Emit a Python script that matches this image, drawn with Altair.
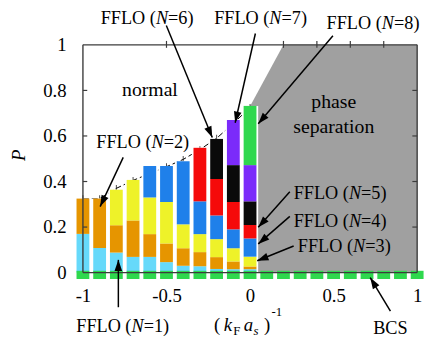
import math
import altair as alt
import pandas as pd

# ---------------- data ----------------
x_vals = [-1.0, -0.9, -0.8, -0.7, -0.6, -0.5, -0.4, -0.3, -0.2, -0.1, 0.0]
# cumulative upper edge of each FFLO(N) segment (None = absent)
top_N1 = [0.170, 0.108, 0.088, 0.069, 0.069, 0.046, 0.030, 0.028, 0.016, 0.015, 0.015]
top_N2 = [0.325, 0.325, 0.208, 0.229, 0.169, 0.128, 0.107, 0.090, 0.068, 0.049, 0.027]
top_N3 = [None, None, 0.364, 0.407, 0.330, 0.310, 0.212, 0.169, 0.147, 0.107, 0.070]
top_N4 = [None, None, None, None, 0.468, 0.468, 0.489, 0.313, 0.251, 0.190, 0.150]
top_N5 = [None, None, None, None, None, None, None, 0.548, 0.411, 0.310, 0.209]
top_N6 = [None, None, None, None, None, None, None, None, 0.587, 0.472, 0.313]
top_N7 = [None, None, None, None, None, None, None, None, None, 0.670, 0.472]
top_N8 = [None, None, None, None, None, None, None, None, None, None, 0.732]

# normal-state boundary (dashed curve)
pc_vals = [0.325, 0.325, 0.370, 0.405, 0.435, 0.465, 0.497, 0.540, 0.590, 0.655, 0.725]

# BCS states at P = 0
bcs_x = [-1.0, -0.9, -0.8, -0.7, -0.6, -0.5, -0.4, -0.3, -0.2, -0.1, 0.0,
         0.1, 0.2, 0.3, 0.4, 0.5, 0.6, 0.7, 0.8, 0.9, 1.0]
bcs_P = [0.0] * len(bcs_x)

# phase-separation region boundary
ps_x = [0.0, 0.2, 1.0]
ps_top = [0.73, 1.0, 1.0]

x_ticks = [-1, -0.5, 0, 0.5, 1]
y_ticks = [0, 0.2, 0.4, 0.6, 0.8, 1]

N_names = ["N=1", "N=2", "N=3", "N=4", "N=5", "N=6", "N=7", "N=8"]
N_colors = ["#66D9FA", "#E69500", "#EEF229", "#1F80EA", "#F50A0A", "#0A0A0A", "#7B2BFA", "#2FD84E"]

# ---------------- layout constants ----------------
W, H = 349, 231
FONT = "'Liberation Serif', 'Times New Roman', Times, 'DejaVu Serif', serif"
PX_X = W / 2.0   # px per x unit
PX_Y = H / 1.0   # px per y unit

# ---------------- tables ----------------
tops = [top_N1, top_N2, top_N3, top_N4, top_N5, top_N6, top_N7, top_N8]
rows = []
totals = []
for i, xv in enumerate(x_vals):
    lo = 0.0
    for n, arr in enumerate(tops):
        hi = arr[i]
        if hi is None:
            continue
        rows.append({"x": xv, "lo": lo, "hi": hi, "N": N_names[n]})
        lo = hi
    totals.append({"x": xv, "top": lo})
bars_df = pd.DataFrame(rows)
tot_df = pd.DataFrame(totals)
pc_df = pd.DataFrame({"x": x_vals, "P": pc_vals})
bcs_df = pd.DataFrame({"x": bcs_x, "P": bcs_P})
ps_df = pd.DataFrame({"x": ps_x, "top": ps_top, "bot": [0.0] * len(ps_x)})

xscale = alt.Scale(domain=[-1, 1], nice=False, zero=False)
yscale = alt.Scale(domain=[0, 1], nice=False, zero=False)
xaxis = alt.Axis(values=x_ticks, labelExpr="replace(format(datum.value, '~g'), '\u2212', '-')",
                 domain=False, ticks=False, tickSize=0, grid=False, labelFont=FONT,
                 labelFontSize=19, labelColor="black", labelPadding=14, labelFlush=False,
                 labelOverlap=False, title=None)
yaxis = alt.Axis(values=y_ticks, format="~g", domain=False, ticks=False, tickSize=0,
                 grid=False, labelFont=FONT, labelFontSize=19, labelColor="black",
                 labelPadding=12, labelFlush=False, labelOverlap=False, title=None)


def X(f):
    return alt.X(f, type="quantitative", scale=xscale, axis=xaxis)


def Y(f):
    return alt.Y(f, type="quantitative", scale=yscale, axis=yaxis)


# phase separation (gray)
gray = alt.Chart(ps_df).mark_area(color="#A0A0A0", opacity=1).encode(
    x=X("x"), y=Y("top"), y2="bot")

# dashed normal boundary + markers
dash = alt.Chart(pc_df).mark_line(color="black", strokeWidth=1, strokeDash=[6, 3]).encode(
    x=X("x"), y=Y("P"))
marks = alt.Chart(pc_df).mark_tick(color="black", orient="vertical", size=7, thickness=1).encode(
    x=X("x"), y=Y("P"))

# white backing and colored stacked bars
white = alt.Chart(tot_df).transform_calculate(base="0").mark_bar(size=16.5, color="white").encode(
    x=X("x"), y=Y("base:Q"), y2="top")
bars = alt.Chart(bars_df).mark_bar(size=13).encode(
    x=X("x"), y=Y("lo"), y2="hi",
    color=alt.Color("N:N", scale=alt.Scale(domain=N_names, range=N_colors), legend=None))

# BCS squares at P=0
bcs = alt.Chart(bcs_df).transform_calculate(
    lo="datum.P - 0.028", hi="datum.P + 0.008").mark_bar(size=13, color="#2FD84E").encode(
    x=X("x"), y=Y("lo:Q"), y2="hi:Q")

# frame and inner ticks
frame_df = pd.DataFrame({"x": [-1, 1, -1, -1], "x2": [1, 1, 1, -1],
                         "y": [1, 0, 0, 0], "y2": [1, 1, 0, 1]})
frame = alt.Chart(frame_df).mark_rule(color="#3C3C3C", strokeWidth=1.4).encode(
    x=X("x"), x2="x2", y=Y("y"), y2="y2")
tick_rows = []
for v in [0.2, 0.4, 0.6, 0.8]:
    tick_rows.append({"x": -1, "x2": -1 + 4.5 / PX_X, "y": v, "y2": v})
    tick_rows.append({"x": 1, "x2": 1 - 5 / PX_X, "y": v, "y2": v})
for v in [-0.5, 0.2, 0.4, 0.6, 0.8]:
    tick_rows.append({"x": v, "x2": v, "y": 1 + 4 / PX_Y, "y2": 1 - 3 / PX_Y})
ticks = alt.Chart(pd.DataFrame(tick_rows)).mark_rule(color="#3C3C3C", strokeWidth=1.2).encode(
    x=X("x"), x2="x2", y=Y("y"), y2="y2")

# arrows (start -> tip), data coords
arrow_df = pd.DataFrame({
    "x":  [-0.501, 0.032, 0.496, -0.759, 0.238, 0.238, 0.261, -0.788, 0.840],
    "y":  [1.085, 1.050, 1.040, 0.506, 0.355, 0.247, 0.117, -0.152, -0.169],
    "x2": [-0.226, -0.089, 0.049, -0.897, 0.049, 0.049, 0.043, -0.788, 0.719],
    "y2": [0.593, 0.658, 0.654, 0.290, 0.199, 0.126, 0.052, 0.056, -0.022],
})
arrow_df["ang"] = [
    (math.degrees(math.atan2((r.x2 - r.x) * PX_X, (r.y2 - r.y) * PX_Y)) + 360) % 360
    for r in arrow_df.itertuples()]
shafts = alt.Chart(arrow_df).mark_rule(color="black", strokeWidth=1.5).encode(
    x=X("x"), x2="x2", y=Y("y"), y2="y2")
heads = alt.Chart(arrow_df).mark_point(
    shape="M0,0L0.34,1L-0.34,1Z", filled=True, color="black", opacity=1, size=520).encode(
    x=X("x2"), y=Y("y2"), angle=alt.Angle("ang:Q", scale=None))

# FFLO labels (center positions), composed of 3 parts for italic N
lab_df = pd.DataFrame({
    "x": [-0.762, -0.642, 0.564, 0.539, 0.539, -0.616, 0.063, 0.736],
    "y": [-0.234, 0.571, 0.117, 0.225, 0.351, 1.117, 1.117, 1.095],
    "n": ["1", "2", "3", "4", "5", "6", "7", "8"],
})
lab_df["p1"] = "FFLO ("
lab_df["p2"] = "N"
lab_df["p3"] = "=" + lab_df["n"] + ")"
FS = 18.5
Wtot = 5.092 * FS
lab1 = alt.Chart(lab_df).mark_text(font=FONT, fontSize=FS, align="left", baseline="middle",
                                   dx=-Wtot / 2, color="black").encode(x=X("x"), y=Y("y"), text="p1")
lab2 = alt.Chart(lab_df).mark_text(font=FONT, fontSize=FS, fontStyle="italic", align="left",
                                   baseline="middle", dx=-Wtot / 2 + 3.028 * FS,
                                   color="black").encode(x=X("x"), y=Y("y"), text="p2")
lab3 = alt.Chart(lab_df).mark_text(font=FONT, fontSize=FS, align="left", baseline="middle",
                                   dx=-Wtot / 2 + 3.695 * FS, color="black").encode(
    x=X("x"), y=Y("y"), text="p3")

big_df = pd.DataFrame({"x": [-0.599, 0.501, 0.501], "y": [0.801, 0.749, 0.641],
                       "t": ["normal", "phase", "separation"]})
big = alt.Chart(big_df).mark_text(font=FONT, fontSize=20, align="center", baseline="middle",
                                  color="black").encode(x=X("x"), y=Y("y"), text="t")
bcs_lab = alt.Chart(pd.DataFrame({"x": [0.840], "y": [-0.242], "t": ["BCS"]})).mark_text(
    font=FONT, fontSize=FS, align="center", baseline="middle", color="black").encode(
    x=X("x"), y=Y("y"), text="t")

# axis titles
ptitle = alt.Chart(pd.DataFrame({"x": [-1.384], "y": [0.515], "t": ["P"]})).mark_text(
    font=FONT, fontSize=19, fontStyle="italic", angle=270, align="center", baseline="middle",
    color="black").encode(x=X("x"), y=Y("y"), text="t")
xt_norm = pd.DataFrame({"x": [-0.215, 0.083], "y": [-0.255, -0.255], "t": ["(", ")"]})
xt_ital = pd.DataFrame({"x": [-0.158, -0.037], "y": [-0.255, -0.255], "t": ["k", "a"]})
xt_sub = pd.DataFrame({"x": [-0.100, 0.129], "y": [-0.273, -0.190], "t": ["F", "-1"]})
xt_subi = pd.DataFrame({"x": [0.020], "y": [-0.273], "t": ["s"]})
xt1 = alt.Chart(xt_norm).mark_text(font=FONT, fontSize=19, align="left", baseline="alphabetic",
                                   color="black").encode(x=X("x"), y=Y("y"), text="t")
xt2 = alt.Chart(xt_ital).mark_text(font=FONT, fontSize=19, fontStyle="italic", align="left",
                                   baseline="alphabetic", color="black").encode(
    x=X("x"), y=Y("y"), text="t")
xt3 = alt.Chart(xt_sub).mark_text(font=FONT, fontSize=13, align="left", baseline="alphabetic",
                                  color="black").encode(x=X("x"), y=Y("y"), text="t")
xt4 = alt.Chart(xt_subi).mark_text(font=FONT, fontSize=13, fontStyle="italic", align="left",
                                   baseline="alphabetic", color="black").encode(
    x=X("x"), y=Y("y"), text="t")

chart = alt.layer(
    gray, dash, marks, white, bars, bcs, frame, ticks, shafts, heads,
    lab1, lab2, lab3, big, bcs_lab, ptitle, xt1, xt2, xt3, xt4
).properties(
    width=W, height=H,
    autosize=alt.AutoSizeParams(type="none"),
    padding={"left": 71, "top": 35, "right": 6, "bottom": 69},
    background="white",
).configure_view(stroke=None)

chart.save("out.html", embed_options={"renderer": "svg", "actions": False})
